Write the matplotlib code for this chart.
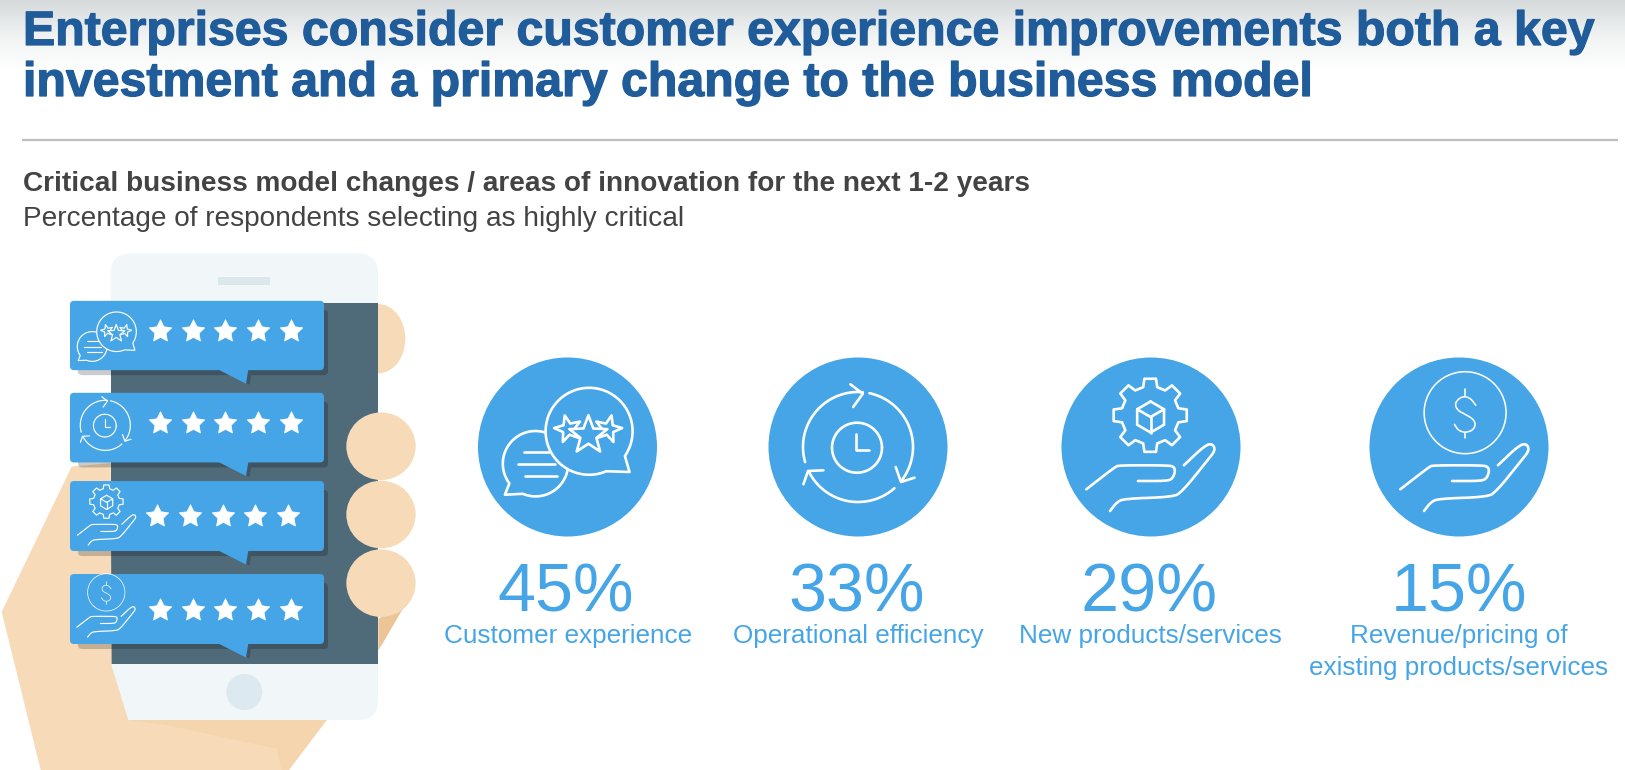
import numpy as np
import matplotlib
matplotlib.use("Agg")
import matplotlib.pyplot as plt
import matplotlib.patheffects as pe
from matplotlib.patches import Circle, Ellipse, FancyBboxPatch, Polygon, Rectangle
from matplotlib.path import Path

# ---- chart content
title_lines = ["Enterprises consider customer experience improvements both a key",
               "investment and a primary change to the business model"]
subtitle_bold = "Critical business model changes / areas of innovation for the next 1-2 years"
subtitle_plain = "Percentage of respondents selecting as highly critical"
categories = ["Customer experience", "Operational efficiency", "New products/services",
              "Revenue/pricing of\nexisting products/services"]
values = [45, 33, 29, 15]
ratings = [5, 5, 5, 5]

# ---- layout (pixels)
circle_x = [567.5, 858, 1151, 1459]
circle_y = 447
circle_r = 89.5
value_x = [566, 857, 1149, 1459]
label_x = [568, 858, 1150, 1459]

BLUE = "#45A5E6"
TITLE = "#1F5C99"
GREY = "#434343"
SKIN = "#F7DBB9"
SKIN_D = "#F5D5AE"
PHONE = "#F1F7F9"
SCREEN = "#4F6A78"
SHADOW = "#3F5765"

plt.rcParams["font.family"] = ["Liberation Sans", "DejaVu Sans"]
fig = plt.figure(figsize=(16.25, 7.7), dpi=100, facecolor="white")
ax = fig.add_axes([0, 0, 1, 1])
ax.set_axis_off()
grad = np.linspace(0, 1, 80).reshape(-1, 1)
ax.imshow(grad, extent=(0, 1625, 72, 0), cmap=matplotlib.colors.LinearSegmentedColormap.from_list(
    "g", ["#D6DADA", "#F1F3F3", "#FFFFFF"]), aspect="auto", zorder=0)
ax.set_xlim(0, 1625)
ax.set_ylim(770, 0)
renderer = fig.canvas.get_renderer()


def fit_text(x, y, s, width, ha="left", va="baseline", **kw):
    t = ax.text(x, y, s, ha=ha, va=va, fontsize=20, zorder=20, **kw)
    w = t.get_window_extent(renderer).width
    t.set_fontsize(20 * width / w)
    return t


def chaikin(pts, n=2):
    p = np.asarray(pts, float)
    for _ in range(n):
        q = [p[0]]
        for a, b in zip(p[:-1], p[1:]):
            q += [0.75 * a + 0.25 * b, 0.25 * a + 0.75 * b]
        q.append(p[-1])
        p = np.array(q)
    return p


def zx(X):
    return X / 3.0


def zy(Y):
    return 240 + Y / 2.958


def star_pts(cx, cy, R, rot=0, inner=0.42):
    a = np.radians(-90 + rot + np.arange(10) * 36)
    r = np.where(np.arange(10) % 2 == 0, R, R * inner)
    return np.c_[cx + r * np.cos(a), cy + r * np.sin(a)]


class Icon:
    def __init__(self, ox, oy, s, lw, z):
        self.ox, self.oy, self.s, self.lw, self.z = ox, oy, s, lw, z

    def T(self, pts):
        p = np.asarray(pts, float)
        return np.c_[self.ox + p[:, 0] * self.s, self.oy + p[:, 1] * self.s]

    def line(self, pts, k=1.0):
        p = self.T(pts)
        ax.plot(p[:, 0], p[:, 1], color="white", lw=self.lw * k, solid_capstyle="round",
                solid_joinstyle="round", zorder=self.z)

    def poly(self, pts, k=1.0):
        ax.add_patch(Polygon(self.T(pts), closed=True, fc=BLUE, ec="white", lw=self.lw * k,
                             joinstyle="round", zorder=self.z))
        self.z += 0.01


def arc(cx, cy, r, a0, a1, n=60):
    a = np.radians(np.linspace(a0, a1, n))
    return np.c_[cx + r * np.cos(a), cy + r * np.sin(a)]


def hand(ic, dx=0):
    p1 = [(-64.7, 42.3), (-36, 20), (-32, 18.3), (17.6, 18.3), (23.3, 20), (24.1, 25),
          (21.4, 31.7), (15.7, 34), (-13, 34)]
    p2 = [(32.9, 18.3), (54, -1.7), (61.6, -3.3), (64.3, 3.3), (57.8, 11.7), (31, 45),
          (21.4, 50), (-26.4, 51.7), (-34, 55), (-41, 64)]
    for p in (p1, p2):
        ic.line(chaikin(np.array(p) + [dx, 0], 2))


def icon_chat(ic):
    ic.poly(np.vstack([arc(-32, 16.7, 32.7, 143, 473), [(-62.6, 47.7)]]))
    ic.line([(-43.4, 5), (-18.6, 5)])
    ic.line([(-49.2, 17), (-12.8, 17)])
    ic.line([(-42.8, 29), (-10.9, 29)])
    ic.poly(np.vstack([arc(21.6, -15.7, 43.5, 66.6, 394.6), [(62, 25)]]))
    ic.poly(star_pts(0.6, -18, 14, -14))
    ic.poly(star_pts(40.7, -18, 14, 14))
    ic.poly(star_pts(20.9, -11.7, 20))


def icon_clock(ic):
    for a0, a1 in [(-196, -85), (-78, 37.5), (48.5, 153)]:
        ic.line(arc(0, 0, 55, a0, a1))
    ic.line([(-7.6, -62.7), (4.8, -53.3), (-4.8, -40)])
    ic.line([(37.7, 20), (43, 35), (56.5, 30.7)])
    ic.line([(-34.6, 23.3), (-50, 24), (-54.6, 37.3)])
    ic.line(arc(-1, 0.7, 25, 0, 360))
    ic.line([(-1.7, -13.3), (-1.7, 3.3), (10.5, 3.3)])


def icon_gear(ic):
    g = []
    for k in range(8):
        a = k * 45 - 90
        for da, r in [(-14, 29), (-9, 37), (9, 37), (14, 29)]:
            g.append((-0.8 + r * np.cos(np.radians(a + da)), -31.7 + r * np.sin(np.radians(a + da))))
    ic.poly(g)
    h = arc(-0.4, -30, 15.5, -90, 270, 7)
    ic.line(h)
    c = (-0.4, -30)
    for ang in (-150, -30, 90):
        v = (-0.4 + 15.5 * np.cos(np.radians(ang)), -30 + 15.5 * np.sin(np.radians(ang)))
        ic.line([c, v])
    hand(ic)


def icon_coin(ic):
    ic.line(arc(6.1, -34.3, 41, 130, 490), 0.6)
    s = [(16.8, -41.7), (11.9, -48.3), (6.1, -50.7), (0.4, -49), (-4.2, -43.3), (-1.5, -36.7),
         (6.1, -32.7), (13.8, -28.3), (16.8, -22.7), (13.8, -16.7), (6.1, -14.3), (-0.8, -16.7),
         (-4.6, -22.7)]
    ic.line(chaikin(s, 2), 0.6)
    ic.line([(6.1, -58.3), (6.1, -50.7)], 0.6)
    ic.line([(6.1, -14.3), (6.1, -9.3)], 0.6)
    hand(ic, 6)


icons = [icon_chat, icon_clock, icon_gear, icon_coin]

# ---- title block
t = fit_text(23, 45, title_lines[0], 1570, color=TITLE, fontweight="bold")
t2 = ax.text(23, 96, title_lines[1], color=TITLE, fontweight="bold", fontsize=t.get_fontsize(),
             ha="left", va="baseline", zorder=20)
for tt in (t, t2):
    tt.set_path_effects([pe.withStroke(linewidth=0.9, foreground=TITLE)])
ax.plot([22, 1618], [139.5, 139.5], color="#BDBDBD", lw=1.6, solid_capstyle="butt", zorder=2)
fit_text(23, 191, subtitle_bold, 1005, color=GREY, fontweight="bold")
fit_text(23, 225.5, subtitle_plain, 659, color=GREY)

# ---- hand and phone
PX0, PX1 = 110.7, 378
ax.add_patch(Ellipse((zx(1135), zy(292)), 162 / 3.0, 205 / 2.958, fc=SKIN, ec="none", zorder=1))
ax.add_patch(Polygon([(zx(1135), zy(1120)), (zx(1215), zy(1080)), (zx(1135), zy(1215))],
                     fc="#EBC596", ec="none", zorder=1))
ax.add_patch(FancyBboxPatch((PX0 + 20, 253.5 + 20), PX1 - PX0 - 40, 466.5 - 40,
                            boxstyle="round,pad=20,rounding_size=20", fc=PHONE, ec="none", zorder=2))
ax.add_patch(Rectangle((PX0, 303), PX1 - PX0, 361, fc=SCREEN, ec="none", zorder=3))
ax.add_patch(Rectangle((218, 277), 52, 8, fc="#DCE7EB", ec="none", zorder=3))
ax.add_patch(Circle((244.3, 692), 18, fc="#DCE9F0", ec="none", zorder=3))
palm = [(215, 670), (5, 1100), (130, 1600), (840, 1600), (980, 1420), (385, 1420), (335, 1260), (332, 660)]
ax.add_patch(Polygon([(zx(a), zy(b)) for a, b in palm], fc=SKIN, ec="none", zorder=4))
dark = [(385, 1420), (980, 1420), (850, 1590), (830, 1505), (500, 1435)]
ax.add_patch(Polygon([(zx(a), zy(b)) for a, b in dark], fc=SKIN_D, ec="none", zorder=4))
for Y in (610, 812, 1015):
    ax.add_patch(Ellipse((zx(1143), zy(Y)), 208 / 3.0, 200 / 2.958, fc=SKIN, ec="none", zorder=5))

# ---- review bubbles
bubble_tops = [180, 452, 713, 988]
bubble_bots = [385, 658, 920, 1195]
star_y = [268, 540, 815, 1093]
star_x0 = [480, 480, 472, 480]
star_step = [98, 98, 98, 98]
small_icon_xy = [(106.7, 338.9), (105.3, 425.3), (106.8, 516), (103.5, 608)]
star_marker = Path.unit_regular_star(5, innerCircle=0.5)
for i, (top, bot) in enumerate(zip(bubble_tops, bubble_bots)):
    x0, x1, y0, y1 = zx(210), zx(972), zy(top), zy(bot)
    tail = [(zx(655), y1 - 0.5), (zx(738), zy(bot + 40)), (zx(745), y1 - 0.5)]
    shadow_tail = [(a + 3.5, b + 1) for a, b in tail]
    ax.add_patch(FancyBboxPatch((x0 + 8, y0 + 9), x1 - x0 - 4, y1 - y0 - 4,
                                boxstyle="round,pad=0,rounding_size=4", fc="black", alpha=0.2,
                                ec="none", zorder=6))
    ax.add_patch(Polygon(shadow_tail, fc=SHADOW, ec="none", zorder=6.1))
    ax.add_patch(FancyBboxPatch((x0, y0), x1 - x0, y1 - y0, boxstyle="round,pad=0,rounding_size=4",
                                fc=BLUE, ec="none", zorder=7))
    ax.add_patch(Polygon(tail, fc=BLUE, ec="none", zorder=7))
    xs = [zx(star_x0[i] + k * star_step[i]) for k in range(ratings[i])]
    ax.plot(xs, [zy(star_y[i])] * ratings[i], ls="none", marker=star_marker, ms=17, mfc="white",
            mec="white", mew=0.5, zorder=8)
    icons[i](Icon(small_icon_xy[i][0], small_icon_xy[i][1], 0.455, 0.85, 8))

# ---- metric circles
for i, (cx, cat, v) in enumerate(zip(circle_x, categories, values)):
    ax.add_patch(Circle((cx, circle_y), circle_r, fc=BLUE, ec="none", zorder=9))
    icons[i](Icon(cx, circle_y, 1.0, 1.9, 10))
    fit_text(value_x[i], 611.7, f"{v}%", 137, ha="center", color=BLUE)
t = fit_text(label_x[0], 643, categories[0], 248, ha="center", color=BLUE)
label_size = t.get_fontsize()
ax.text(label_x[1], 643, categories[1], ha="center", va="baseline", color=BLUE, fontsize=label_size, zorder=20)
ax.text(label_x[2], 643, categories[2], ha="center", va="baseline", color=BLUE, fontsize=label_size, zorder=20)
for line, y in zip(categories[3].split("\n"), (643, 675)):
    ax.text(label_x[3], y, line, ha="center", va="baseline", color=BLUE, fontsize=label_size, zorder=20)

fig.savefig("out.png", dpi=100, facecolor="white")
